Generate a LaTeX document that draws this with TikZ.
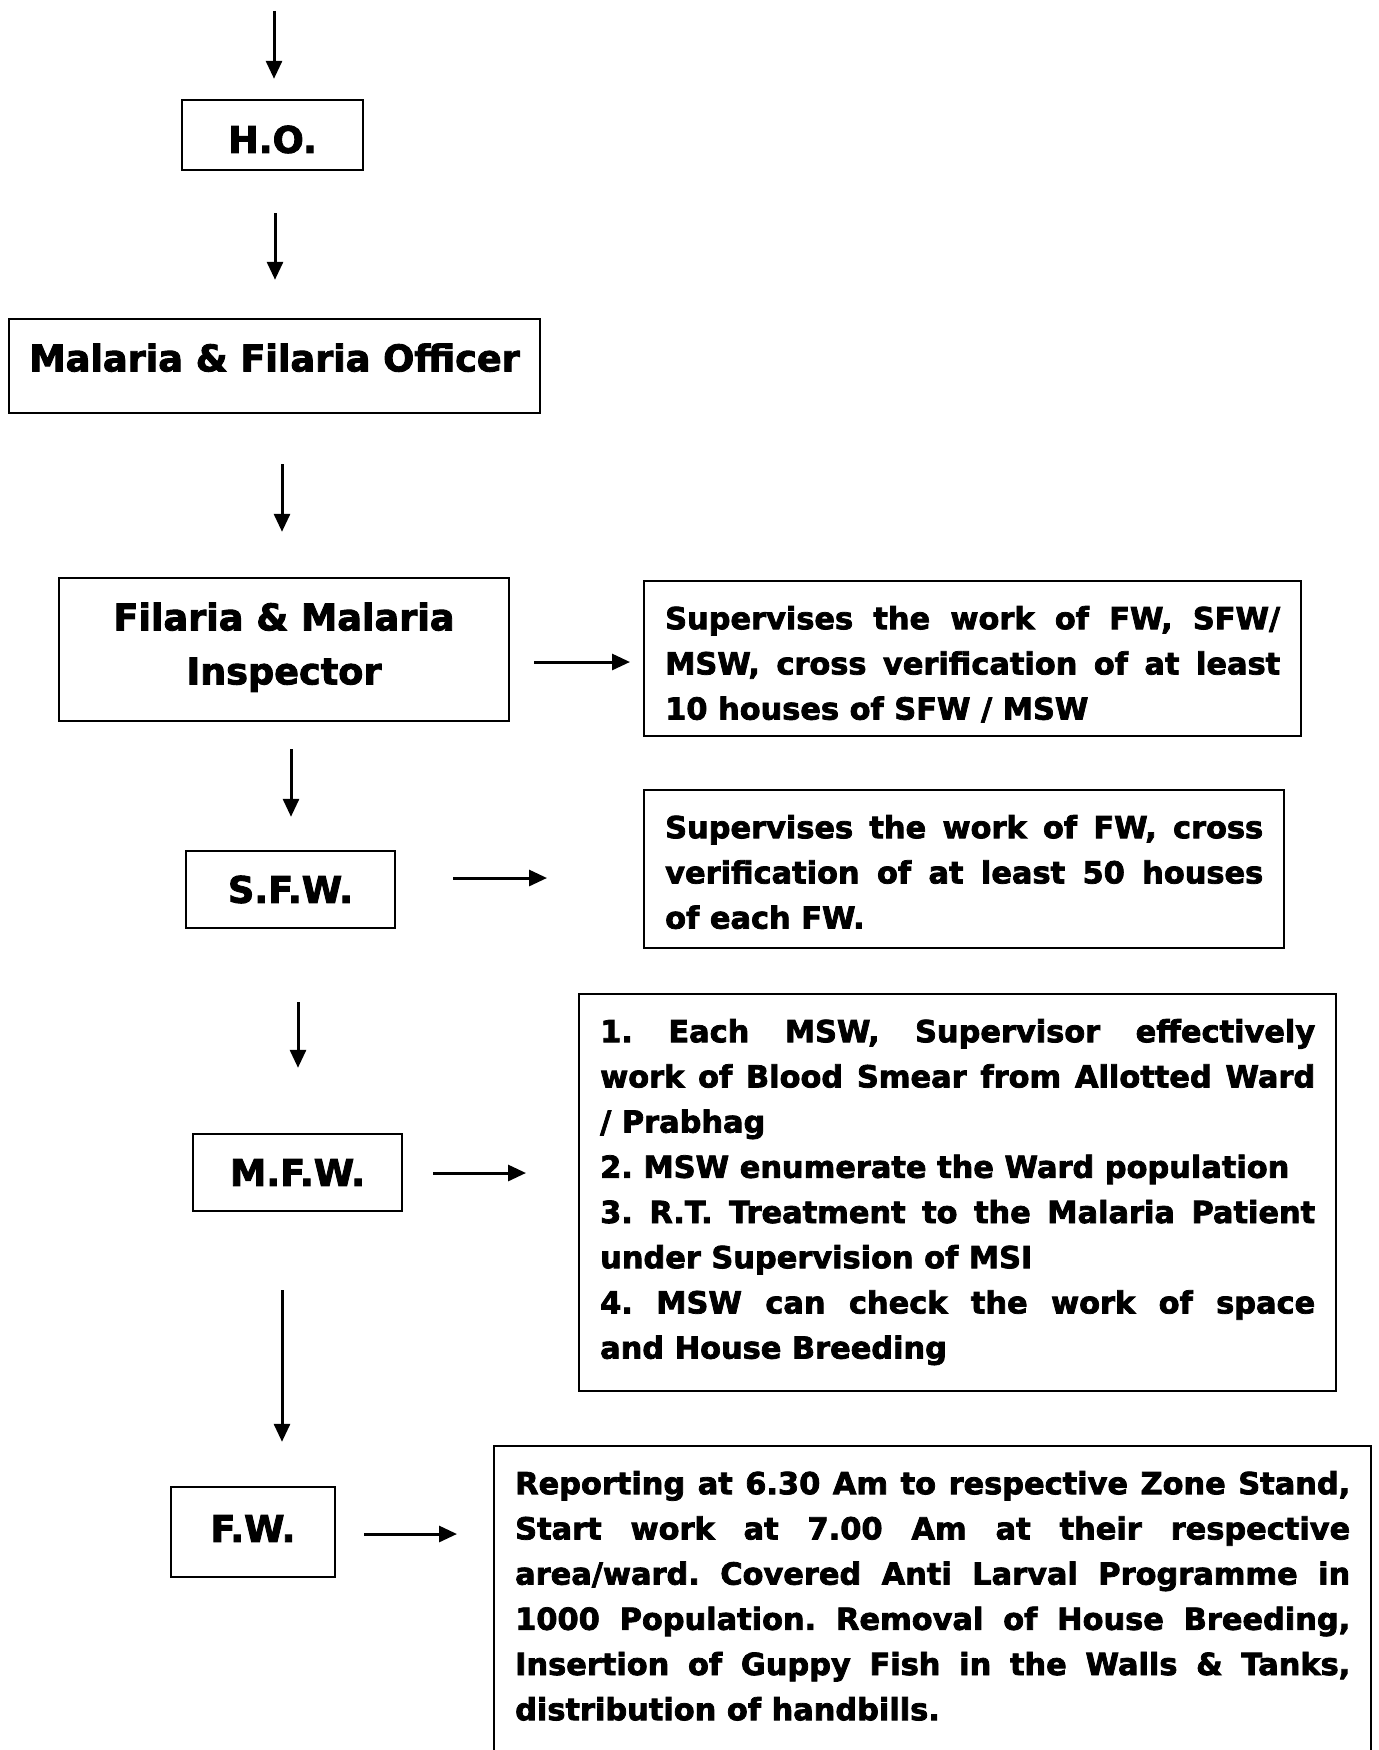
\documentclass[tikz,border=0pt]{standalone}
\usepackage{fontspec}
\setmainfont{DejaVu Sans}[BoldFeatures={FakeBold=2.5}]
\usetikzlibrary{arrows.meta}
\hyphenpenalty=10000
\frenchspacing
\tikzstyle{rank}=[draw,line width=1.2pt,inner sep=0pt,align=center,font=\fontsize{18.3}{27}\selectfont\bfseries,text height=13.3pt,text depth=0pt]
\tikzstyle{duty}=[draw,line width=1.2pt,anchor=north west,inner xsep=10.5pt,inner ysep=8pt,align=justify,font=\fontsize{15.2}{22.6}\selectfont\bfseries,text height=16pt]
\tikzstyle{flow}=[draw,line width=1.5pt,-{Triangle[length=9pt,width=8pt]}]

\begin{document}
\begin{tikzpicture}[x=0.5pt,y=-0.5pt]
    \useasboundingbox (0,0) rectangle (1379,1750);
    % First the posts, from top to bottom
    \node[rank,minimum width=90.5pt,minimum height=35pt,text height=17.8pt] (ho) at (272.5,135) {H.O.};
    \node[rank,minimum width=265.5pt,minimum height=47pt,text depth=8pt] (mfo) at (274.5,366) {Malaria \& Filaria Officer};
    \node[rank,minimum width=225pt,minimum height=71.5pt,text height=40.3pt,text depth=5.5pt] (insp) at (284,649.5) {Filaria \& Malaria\\Inspector};
    \node[rank,minimum width=104.5pt,minimum height=38.5pt] (sfw) at (290.5,889.5) {S.F.W.};
    \node[rank,minimum width=104.5pt,minimum height=38.5pt] (mfw) at (297.5,1172.5) {M.F.W.};
    \node[rank,minimum width=82pt,minimum height=45pt,text depth=3.5pt] (fw) at (253,1532) {F.W.};
    % Then the duties beside them
    \node[duty,text width=307.5pt,text depth=45.5pt] (sup1) at (643,580) {Supervises the work of FW, SFW/\linebreak MSW, cross verification of at least\linebreak 10 houses of SFW / MSW};
    \node[duty,text width=299pt,text depth=47pt] (sup2) at (643,789) {Supervises the work of FW, cross\linebreak verification of at least 50 houses\linebreak of each FW.};
    \node[duty,text width=357.5pt,text depth=166.5pt] (sup3) at (578,993) {1. Each MSW, Supervisor effectively\linebreak work of Blood Smear from Allotted Ward\linebreak / Prabhag\\2. MSW enumerate the Ward population\\3. R.T. Treatment to the Malaria Patient\linebreak under Supervision of MSI\\4. MSW can check the work of space\linebreak and House Breeding};
    \node[duty,text width=417.5pt,text depth=145.5pt] (sup4) at (493,1445) {Reporting at 6.30 Am to respective Zone Stand,\linebreak Start work at 7.00 Am at their respective\linebreak area/ward. Covered Anti Larval Programme in\linebreak 1000 Population. Removal of House Breeding,\linebreak Insertion of Guppy Fish in the Walls \& Tanks,\linebreak distribution of handbills.};
    % Arrows down the chain
    \coordinate (top) at (274,11);
    \path[flow,shorten >=10pt] (top) -- (top |- ho.north);
    \foreach \source/\dest/\xpos/\ss/\se in {ho/mfo/275/21/19, mfo/insp/282/25/22.5, insp/sfw/291/13.5/16.5, sfw/mfw/298/36.5/32.5, mfw/fw/282/39/22}
        \path[flow,shorten <=\ss pt,shorten >=\se pt] (\xpos,0 |- \source.south) -- (\xpos,0 |- \dest.north);
    % Arrows across to the duties
    \foreach \source/\dest/\ypos/\ss/\se in {insp/sup1/662/12/6.5, sfw/sup2/878/28.5/48, mfw/sup3/1173/15/26, fw/sup4/1534/14/18}
        \path[flow,shorten <=\ss pt,shorten >=\se pt] (\source.east |- 0,\ypos) -- (\dest.west |- 0,\ypos);
\end{tikzpicture}
\end{document}
